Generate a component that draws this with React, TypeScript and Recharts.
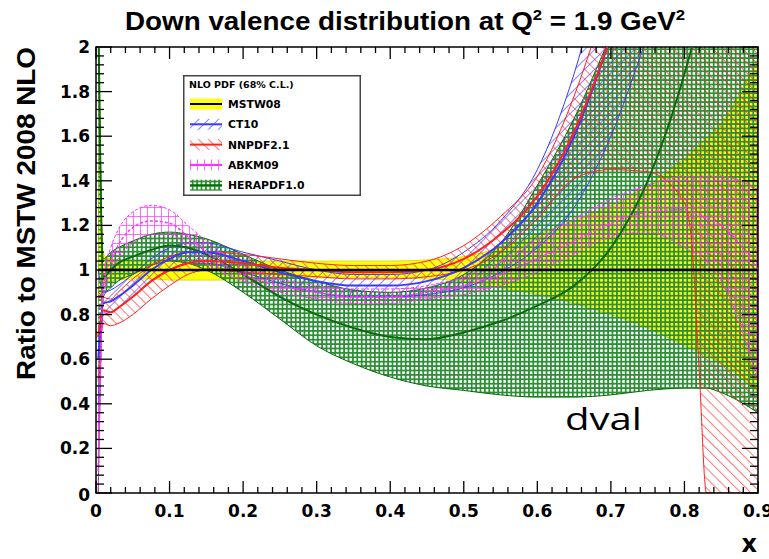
import React from 'react';
import { ComposedChart, Area, Line, XAxis, YAxis, ReferenceArea, Legend } from 'recharts';

const W = 769;
const H = 559;
const MARGIN = { top: 47, right: 11, left: 0, bottom: 0 };
const Y_AXIS_W = 96;
const X_AXIS_H = 66;
const PLOT_W = W - MARGIN.right - Y_AXIS_W;
const PLOT_H = H - MARGIN.top - X_AXIS_H;
const ROOT_FONT = '"DejaVu Sans", "Liberation Sans", Arial, sans-serif';
const HELV = '"Liberation Sans", Arial, Helvetica, sans-serif';

// ---------- data ----------
const xs = [0.003, 0.01, 0.02, 0.03, 0.05, 0.075, 0.1, 0.125, 0.15, 0.2, 0.25, 0.3, 0.35, 0.4, 0.45, 0.5, 0.55, 0.6, 0.65, 0.7, 0.75, 0.8, 0.81, 0.82, 0.83, 0.85, 0.9];

const mstwLo = [0.85, 0.93, 0.95, 0.955, 0.96, 0.96, 0.955, 0.955, 0.955, 0.955, 0.96, 0.965, 0.965, 0.965, 0.96, 0.95, 0.92, 0.89, 0.85, 0.8, 0.74, 0.66, 0.645, 0.63, 0.615, 0.58, 0.45];
const mstwMid = [1, 1, 1, 1, 1, 1, 1, 1, 1, 1, 1, 1, 1, 1, 1, 1, 1, 1, 1, 1, 1, 1, 1, 1, 1, 1, 1];
const mstwHi = [2.2, 1.07, 1.05, 1.045, 1.04, 1.04, 1.04, 1.04, 1.04, 1.04, 1.04, 1.04, 1.04, 1.04, 1.045, 1.06, 1.1, 1.16, 1.22, 1.29, 1.38, 1.5, 1.53, 1.56, 1.59, 1.66, 1.95];

const ct10Lo = [0.4, 0.8, 0.81, 0.83, 0.88, 0.95, 1.0, 1.03, 1.03, 0.99, 0.94, 0.9, 0.88, 0.88, 0.89, 0.92, 0.99, 1.1, 1.28, 1.6, 2.05, 2.5, 2.6, 2.7, 2.8, 3.0, 3.5];
const ct10Mid = [0.6, 0.85, 0.86, 0.88, 0.93, 1.0, 1.05, 1.08, 1.08, 1.04, 0.99, 0.95, 0.93, 0.93, 0.95, 1.01, 1.12, 1.3, 1.6, 2.05, 2.6, 3.1, 3.2, 3.3, 3.4, 3.6, 4.0];
const ct10Hi = [1.0, 0.9, 0.91, 0.93, 0.98, 1.05, 1.1, 1.12, 1.12, 1.08, 1.04, 1.0, 0.98, 0.98, 1.0, 1.08, 1.22, 1.45, 1.88, 2.5, 3.1, 3.7, 3.8, 3.9, 4.0, 4.2, 4.6];

const nnpdfLo = [0.5, 0.76, 0.75, 0.76, 0.8, 0.87, 0.93, 0.98, 1.0, 0.99, 0.98, 0.97, 0.96, 0.96, 0.97, 1.0, 1.08, 1.23, 1.41, 1.45, 1.44, 1.3, 1.12, 0.55, 0, 0, 0];
const nnpdfMid = [0.7, 0.82, 0.81, 0.83, 0.88, 0.95, 1.0, 1.03, 1.04, 1.03, 1.01, 1.0, 0.99, 0.99, 1.0, 1.05, 1.16, 1.33, 1.62, 2.05, 2.6, 3.2, 3.3, 3.4, 3.5, 3.6, 4.0];
const nnpdfHi = [0.9, 0.88, 0.87, 0.9, 0.96, 1.02, 1.06, 1.08, 1.08, 1.07, 1.05, 1.03, 1.02, 1.02, 1.04, 1.11, 1.24, 1.42, 1.78, 2.3, 3.0, 3.5, 3.6, 3.7, 3.8, 4.0, 4.5];

const abkmLo = [0.0, 0.88, 0.98, 1.05, 1.12, 1.16, 1.16, 1.1, 1.03, 0.95, 0.9, 0.87, 0.85, 0.85, 0.87, 0.89, 0.93, 0.99, 1.07, 1.15, 1.17, 1.1, 1.08, 1.06, 1.03, 0.95, 0.5];
const abkmMid = [0.1, 0.93, 1.04, 1.11, 1.19, 1.22, 1.21, 1.15, 1.08, 0.98, 0.93, 0.9, 0.88, 0.88, 0.9, 0.93, 0.98, 1.05, 1.13, 1.21, 1.26, 1.27, 1.26, 1.25, 1.23, 1.2, 1.0];
const abkmHi = [0.3, 0.98, 1.1, 1.18, 1.26, 1.29, 1.27, 1.2, 1.13, 1.02, 0.96, 0.93, 0.915, 0.915, 0.93, 0.97, 1.04, 1.14, 1.23, 1.32, 1.38, 1.42, 1.42, 1.42, 1.42, 1.42, 1.36];

const heraLo = [0, 0.88, 0.92, 0.95, 0.98, 1.02, 1.04, 1.03, 1.0, 0.9, 0.78, 0.66, 0.58, 0.52, 0.48, 0.46, 0.44, 0.43, 0.43, 0.44, 0.46, 0.47, 0.47, 0.47, 0.47, 0.45, 0.36];
const heraMid = [2.2, 0.97, 1.0, 1.03, 1.06, 1.09, 1.11, 1.1, 1.07, 0.98, 0.88, 0.8, 0.74, 0.7, 0.69, 0.72, 0.77, 0.84, 0.93, 1.1, 1.4, 1.88, 2.0, 2.15, 2.3, 2.6, 3.2];
const heraHi = [2.2, 1.05, 1.08, 1.1, 1.13, 1.16, 1.17, 1.16, 1.14, 1.07, 1.0, 0.95, 0.91, 0.9, 0.92, 0.98, 1.12, 1.38, 1.68, 2.05, 2.4, 2.8, 2.9, 3.0, 3.1, 3.2, 3.5];

const seriesNames = ['MSTW08', 'CT10', 'NNPDF2.1', 'ABKM09', 'HERAPDF1.0'];
const legendTitle = 'NLO PDF (68% C.L.)';

const xMajor = [0, 0.1, 0.2, 0.3, 0.4, 0.5, 0.6, 0.7, 0.8, 0.9];
const xTickLabels = ['0', '0.1', '0.2', '0.3', '0.4', '0.5', '0.6', '0.7', '0.8', '0.9'];
const yMajor = [0, 0.2, 0.4, 0.6, 0.8, 1, 1.2, 1.4, 1.6, 1.8, 2];
const yTickLabels = ['0', '0.2', '0.4', '0.6', '0.8', '1', '1.2', '1.4', '1.6', '1.8', '2'];
const xMinor = Array.from({ length: 46 }, (_, i) => Math.round(i * 2) / 100);
const yMinor = Array.from({ length: 51 }, (_, i) => Math.round(i * 4) / 100);

const data = xs.map((x, i) => ({
  x,
  mstw: [mstwLo[i], mstwHi[i]],
  mstwC: mstwMid[i],
  ct10: [ct10Lo[i], ct10Hi[i]],
  ct10C: ct10Mid[i],
  nnpdf: [nnpdfLo[i], nnpdfHi[i]],
  nnpdfC: nnpdfMid[i],
  abkm: [abkmLo[i], abkmHi[i]],
  abkmC: abkmMid[i],
  hera: [heraLo[i], heraHi[i]],
  heraC: heraMid[i],
}));

// ---------- styles ----------
const C_YELLOW = '#ffff10';
const C_BLUE = '#3a3aff';
const C_RED = '#ff2020';
const C_MAGENTA = '#ff30ff';
const C_GREEN = '#2f8f38';
const C_DGREEN = '#0b6a0b';

const Patterns = () => (
  <defs>
    <pattern id="pCT10" patternUnits="userSpaceOnUse" width="7" height="7" patternTransform="rotate(45)">
      <line x1="0" y1="0" x2="0" y2="7" stroke={C_BLUE} strokeWidth="1.2" />
    </pattern>
    <pattern id="pNNPDF" patternUnits="userSpaceOnUse" width="7" height="7" patternTransform="rotate(-45)">
      <line x1="0" y1="0" x2="0" y2="7" stroke={C_RED} strokeWidth="1.2" />
    </pattern>
    <pattern id="pABKM" patternUnits="userSpaceOnUse" width="7" height="9">
      <line x1="0.5" y1="0" x2="0.5" y2="9" stroke={C_MAGENTA} strokeWidth="1" strokeOpacity="0.7" />
      <line x1="0" y1="0.5" x2="7" y2="0.5" stroke={C_MAGENTA} strokeWidth="1" strokeOpacity="0.7" />
    </pattern>
    <pattern id="pHERA" patternUnits="userSpaceOnUse" width="4.4" height="4.4">
      <path d="M0 0.9 H4.4 M0.9 0 V4.4" stroke={C_GREEN} strokeWidth="1.8" fill="none" />
    </pattern>
  </defs>
);

const isMajor = (arr: number[], v: number) => arr.findIndex((t) => Math.abs(t - v) < 1e-6);

const XTick = (props: any) => {
  const { x, y, payload } = props;
  const mi = isMajor(xMajor, payload.value);
  const len = mi >= 0 ? 12 : 6;
  return (
    <g>
      <line x1={x} x2={x} y1={y} y2={y - len} stroke="#000" strokeWidth={1.3} />
      <line x1={x} x2={x} y1={y - PLOT_H} y2={y - PLOT_H + len} stroke="#000" strokeWidth={1.3} />
      {mi >= 0 && (
        <text x={x} y={y + 24} textAnchor="middle" fontFamily={ROOT_FONT} fontWeight="bold" fontSize={17} fill="#000">
          {xTickLabels[mi]}
        </text>
      )}
    </g>
  );
};

const YTick = (props: any) => {
  const { x, y, payload } = props;
  const mi = isMajor(yMajor, payload.value);
  const len = mi >= 0 ? 16 : 8;
  return (
    <g>
      <line x1={x} x2={x + len} y1={y} y2={y} stroke="#000" strokeWidth={1.3} />
      <line x1={x + PLOT_W} x2={x + PLOT_W - len} y1={y} y2={y} stroke="#000" strokeWidth={1.3} />
      {mi >= 0 && (
        <text x={x - 6} y={y + (mi === 0 ? 8 : 6)} textAnchor="end" fontFamily={ROOT_FONT} fontWeight="bold" fontSize={17} fill="#000">
          {yTickLabels[mi]}
        </text>
      )}
    </g>
  );
};

const swatchFills = [C_YELLOW, 'url(#pCT10)', 'url(#pNNPDF)', 'url(#pABKM)', 'url(#pHERA)'];
const swatchLines = ['#000', C_BLUE, C_RED, C_MAGENTA, C_DGREEN];

const LegendBox = () => (
  <svg width={178} height={121} style={{ display: 'block' }}>
    <rect x={0.75} y={0.75} width={176.5} height={119.5} fill="#fff" stroke="#444" strokeWidth={1.5} />
    <text x={6} y={13} fontFamily={ROOT_FONT} fontWeight="bold" fontSize={9.5} fill="#000">
      {legendTitle}
    </text>
    {seriesNames.map((name, i) => {
      const cy = 29 + i * 20.3;
      return (
        <g key={name}>
          <rect x={7} y={cy - 5.5} width={32} height={11} fill={swatchFills[i]} />
          <line x1={7} x2={39} y1={cy} y2={cy} stroke={swatchLines[i]} strokeWidth={2} />
          <text x={45} y={cy + 4} fontFamily={ROOT_FONT} fontWeight="bold" fontSize={10.8} fill="#000">
            {name}
          </text>
        </g>
      );
    })}
  </svg>
);

export default function App() {
  return (
    <div style={{ position: 'absolute', left: 0, top: 0, width: W, height: H, background: '#fff' }}>
      <ComposedChart width={W} height={H} data={data} margin={MARGIN}>
        <Patterns />
        <XAxis
          dataKey="x"
          type="number"
          domain={[0, 0.9]}
          ticks={xMinor}
          interval={0}
          allowDataOverflow
          height={X_AXIS_H}
          axisLine={false}
          tickLine={false}
          tickSize={0}
          tickMargin={0}
          tick={(p: any) => <XTick {...p} />}
        />
        <YAxis
          type="number"
          domain={[0, 2]}
          ticks={yMinor}
          interval={0}
          allowDataOverflow
          width={Y_AXIS_W}
          axisLine={false}
          tickLine={false}
          tickSize={0}
          tickMargin={0}
          tick={(p: any) => <YTick {...p} />}
        />
        <Area dataKey="mstw" type="monotone" fill={C_YELLOW} fillOpacity={1} stroke="#e0e000" strokeWidth={1} isAnimationActive={false} dot={false} activeDot={false} />
        <Area dataKey="hera" type="monotone" fill="url(#pHERA)" fillOpacity={1} stroke={C_DGREEN} strokeWidth={1} isAnimationActive={false} dot={false} activeDot={false} />
        <Area dataKey="ct10" type="monotone" fill="url(#pCT10)" fillOpacity={1} stroke={C_BLUE} strokeWidth={1} isAnimationActive={false} dot={false} activeDot={false} />
        <Area dataKey="nnpdf" type="monotone" fill="url(#pNNPDF)" fillOpacity={1} stroke={C_RED} strokeWidth={1} isAnimationActive={false} dot={false} activeDot={false} />
        <Area dataKey="abkm" type="monotone" fill="url(#pABKM)" fillOpacity={1} stroke={C_MAGENTA} strokeWidth={1} strokeDasharray="3 2" isAnimationActive={false} dot={false} activeDot={false} />
        <Line dataKey="heraC" type="monotone" stroke={C_DGREEN} strokeWidth={2} dot={false} activeDot={false} isAnimationActive={false} />
        <Line dataKey="ct10C" type="monotone" stroke={C_BLUE} strokeWidth={2} dot={false} activeDot={false} isAnimationActive={false} />
        <Line dataKey="nnpdfC" type="monotone" stroke={C_RED} strokeWidth={2} dot={false} activeDot={false} isAnimationActive={false} />
        <Line dataKey="abkmC" type="monotone" stroke={C_MAGENTA} strokeWidth={1.5} strokeDasharray="3 2" dot={false} activeDot={false} isAnimationActive={false} />
        <Line dataKey="mstwC" type="monotone" stroke="#000" strokeWidth={2.5} dot={false} activeDot={false} isAnimationActive={false} />
        <ReferenceArea x1={0} x2={0.9} y1={0} y2={2} fill="none" stroke="#000" strokeWidth={1.5} ifOverflow="visible" />
        <Legend
          layout="vertical"
          align="center"
          verticalAlign="middle"
          content={() => <LegendBox />}
          wrapperStyle={{ left: 183, top: 75, width: 178, height: 121 }}
        />
        <text x={405} y={30} textAnchor="middle" fontFamily={HELV} fontWeight="bold" fontSize={25} fill="#000" textLength={560} lengthAdjust="spacingAndGlyphs">
          Down valence distribution at Q<tspan dy={-10} fontSize={15}>2</tspan>
          <tspan dy={10}> = 1.9 GeV</tspan>
          <tspan dy={-10} fontSize={15}>2</tspan>
        </text>
        <text
          x={35}
          y={213.5}
          transform="rotate(-90 35 213.5)"
          textAnchor="middle"
          fontFamily={HELV}
          fontWeight="bold"
          fontSize={26}
          fill="#000"
          textLength={333}
          lengthAdjust="spacingAndGlyphs"
        >
          Ratio to MSTW 2008 NLO
        </text>
        <text x={757} y={552} textAnchor="end" fontFamily={ROOT_FONT} fontWeight="bold" fontSize={24} fill="#000">
          x
        </text>
        <text x={565} y={430} fontFamily='"Open Sans", "DejaVu Sans", sans-serif' fontSize={31} fill="#000" textLength={77} lengthAdjust="spacingAndGlyphs">
          dval
        </text>
      </ComposedChart>
    </div>
  );
}
